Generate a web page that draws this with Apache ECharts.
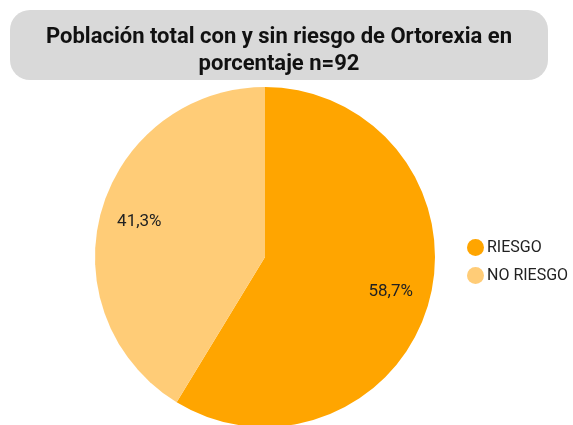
<!DOCTYPE html>
<html><head><meta charset="utf-8">
<script src="https://cdn.jsdelivr.net/npm/echarts@6/dist/echarts.min.js"></script>
<style>html,body{margin:0;padding:0;background:#fff}#c{width:573px;height:425px}</style>
</head><body><div id="c"></div>
<script>
const titleText = 'Población total con y sin riesgo de Ortorexia en\nporcentaje n=92';
const categories = ['RIESGO', 'NO RIESGO'];
const values = [58.7, 41.3];
const colors = ['#FFA500', '#FFCC77'];

const chart = echarts.init(document.getElementById('c'));
const data = categories.map((n, i) => ({ name: n, value: values[i], itemStyle: { color: colors[i] } }));
chart.setOption({
  animation: false,
  graphic: [{
    type: 'rect', z: 0,
    shape: { x: 10, y: 10, width: 538, height: 70, r: 20 },
    style: { fill: '#D9D9D9' }
  }],
  title: {
    text: titleText, left: 274, top: 19, textAlign: 'center',
    textStyle: { fontFamily: 'Roboto', fontWeight: 'bold', fontSize: 22, color: '#111', lineHeight: 27 }
  },
  legend: {
    orient: 'vertical', left: 462, top: 234, icon: 'circle',
    itemWidth: 17, itemHeight: 17, itemGap: 11,
    data: categories,
    textStyle: { fontFamily: 'Roboto', fontSize: 16, color: '#222', padding: [0, 0, 0, -2] }
  },
  series: [{
    type: 'pie', center: [265, 257], radius: [0, 170], startAngle: 90, clockwise: true,
    data: data, label: { show: false }, labelLine: { show: false }, emphasis: { disabled: true }
  }, {
    type: 'pie', center: [265, 257], radius: [85, 170], startAngle: 90, clockwise: true, silent: true,
    legendHoverLink: false,
    data: categories.map((n, i) => ({ name: n + ' ', value: values[i], itemStyle: { color: 'rgba(0,0,0,0)' } })),
    label: { show: true, position: 'inside', formatter: p => p.value.toFixed(1).replace('.', ',') + '%',
      fontFamily: 'Roboto', fontSize: 17, color: '#222' },
    labelLine: { show: false }, emphasis: { disabled: true }
  }]
});
</script></body></html>
